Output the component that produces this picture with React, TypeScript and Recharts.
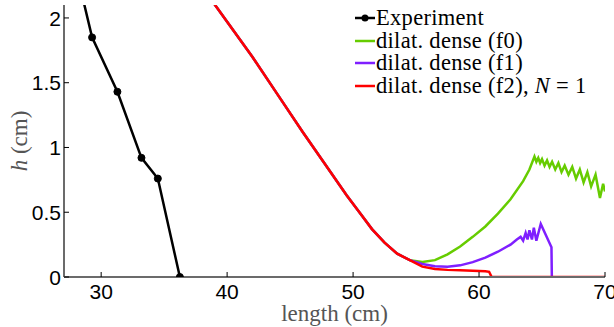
import { LineChart, Line, XAxis, YAxis } from 'recharts'

// experiment (first point sits above the plot top and gets clipped)
const expLength = [28.4, 29.28, 31.29, 33.2, 34.5, 36.25]
const expH = [2.21, 1.85, 1.43, 0.92, 0.76, 0]

// part of the curve shared by all three simulations
const sharedLength = [38.6, 40, 42, 44, 46, 48, 49.5, 50.5, 51.5, 52.5, 53.5, 54.5]
const sharedH = [2.16, 1.97, 1.7, 1.41, 1.12, 0.84, 0.63, 0.5, 0.37, 0.265, 0.18, 0.13]

const f0Length = [
  55.5, 56.5, 57.5, 58.5, 59.5, 60.5, 61.5, 62.5, 63.5, 64.0, 64.4,
  64.55, 64.7, 64.85, 65.0, 65.2, 65.4, 65.6, 65.8, 66.05, 66.3, 66.55, 66.8, 67.1, 67.4, 67.7, 68.0,
  68.3, 68.6, 68.9, 69.25, 69.6, 69.85, 70.0,
]
const f0H = [
  0.115, 0.13, 0.175, 0.235, 0.31, 0.39, 0.49, 0.6, 0.74, 0.83, 0.93,
  0.89, 0.92, 0.88, 0.91, 0.86, 0.9, 0.85, 0.89, 0.83, 0.88, 0.81, 0.86, 0.79, 0.85, 0.76, 0.83,
  0.73, 0.81, 0.7, 0.79, 0.61, 0.72, 0.66,
]

const f1Length = [
  55.5, 56.5, 57.5, 58.5, 59.5, 60.5, 61.5, 62.5, 63.0, 63.3,
  63.5, 63.7, 63.85, 64.0, 64.2, 64.35, 64.55, 64.9, 65.75, 65.78,
]
const f1H = [
  0.1, 0.083, 0.08, 0.09, 0.115, 0.15, 0.195, 0.25, 0.29, 0.31,
  0.28, 0.34, 0.29, 0.36, 0.29, 0.38, 0.28, 0.41, 0.23, 0,
]

const f2Length = [55.5, 56.5, 57.5, 58.5, 59.5, 60.5, 60.8, 61.0, 70]
const f2H = [0.08, 0.062, 0.055, 0.052, 0.049, 0.045, 0.04, 0, 0]

const xTicks = [30, 40, 50, 60, 70]
const yTicks = [0, 0.5, 1, 1.5, 2]

const toPoints = (xs: number[], ys: number[]) => xs.map((x, i) => ({ x, h: ys[i] }))

const expData = toPoints(expLength, expH)
const shared = toPoints(sharedLength, sharedH)
const f0Data = [...shared, ...toPoints(f0Length, f0H)]
const f1Data = [...shared, ...toPoints(f1Length, f1H)]
const f2Data = [...shared, ...toPoints(f2Length, f2H)]

const serif = '"Liberation Serif", "Times New Roman", serif'
const sans = '"Liberation Sans", Arial, sans-serif'

const XTick = ({ x, y, payload }: any) => (
  <g>
    <line x1={x} y1={y} x2={x} y2={y - 5} stroke="#000" strokeWidth={1} />
    <text x={x} y={y + 7} dy="0.71em" textAnchor="middle" fontFamily={sans} fontSize={21} fill="#000">
      {payload.value}
    </text>
  </g>
)

const YTick = ({ x, y, payload }: any) => (
  <g>
    <line x1={x} y1={y} x2={x + 5} y2={y} stroke="#000" strokeWidth={1} />
    <text x={x - 3} y={y} dy="0.36em" textAnchor="end" fontFamily={sans} fontSize={21} fill="#000">
      {payload.value}
    </text>
  </g>
)

const YLabel = ({ viewBox }: any) => {
  const cx = 19
  const cy = viewBox.y + viewBox.height / 2
  return (
    <text x={cx} y={cy} transform={`rotate(-90 ${cx} ${cy})`} textAnchor="middle" dominantBaseline="central"
      fontFamily={serif} fontSize={23} fill="#555">
      <tspan fontStyle="italic">h</tspan> (cm)
    </text>
  )
}

const legendItems = [
  { color: '#000', label: <>Experiment</>, dot: true },
  { color: '#66cc00', label: <>dilat. dense (f0)</> },
  { color: '#7f1fff', label: <>dilat. dense (f1)</> },
  { color: '#ff0000', label: <>dilat. dense (f2), <i>N</i>&nbsp;=&nbsp;1</> },
]

// legend is drawn as an overlay so it does not shrink the plot area
const LegendBox = () => (
  <div style={{ position: 'absolute', top: 7, left: 355, fontFamily: serif, fontSize: 22.5, lineHeight: '22.6px', color: '#000' }}>
    {legendItems.map((it, i) => (
      <div key={i} style={{ display: 'flex', alignItems: 'center', whiteSpace: 'nowrap', height: 22.6 }}>
        <svg width={20} height={20} style={{ marginRight: 1 }}>
          <line x1={0} y1={10} x2={20} y2={10} stroke={it.color} strokeWidth={2.5} />
          {it.dot && <circle cx={10} cy={10} r={3.5} fill={it.color} />}
        </svg>
        <span style={{ letterSpacing: 0.3 }}>{it.label}</span>
      </div>
    ))}
  </div>
)

export default function App() {
  return (
    <div style={{ width: 614, height: 327, background: '#fff', position: 'relative' }}>
      <style>{`body{margin:0}`}</style>
      <LineChart width={614} height={327} margin={{ top: 5, right: 9, left: 8, bottom: 0 }}>
        <XAxis
          dataKey="x"
          type="number"
          domain={[27.05, 70]}
          allowDataOverflow
          ticks={xTicks}
          interval={0}
          height={50}
          tickSize={0}
          tickMargin={0}
          tickLine={false}
          tick={<XTick />}
          axisLine={{ stroke: '#6b6b6b', strokeWidth: 2 }}
          label={{ value: 'length (cm)', position: 'insideBottom', offset: 6, fontFamily: serif, fontSize: 23, fill: '#555' }}
        />
        <YAxis
          type="number"
          domain={[0, 2.1]}
          allowDataOverflow
          ticks={yTicks}
          interval={0}
          width={56}
          tickSize={0}
          tickMargin={0}
          tickLine={false}
          tick={<YTick />}
          axisLine={{ stroke: '#6b6b6b', strokeWidth: 2 }}
          label={<YLabel />}
        />
        <Line data={f0Data} dataKey="h" stroke="#66cc00" strokeWidth={2.5} dot={false} isAnimationActive={false} />
        <Line data={f1Data} dataKey="h" stroke="#7f1fff" strokeWidth={2.5} dot={false} isAnimationActive={false} />
        <Line data={f2Data} dataKey="h" stroke="#ff0000" strokeWidth={2.5} dot={false} isAnimationActive={false} />
        <Line
          data={expData}
          dataKey="h"
          stroke="#000"
          strokeWidth={2.5}
          dot={{ r: 3.5, fill: '#000', stroke: '#000', strokeWidth: 1 }}
          isAnimationActive={false}
        />
      </LineChart>
      <LegendBox />
    </div>
  )
}
